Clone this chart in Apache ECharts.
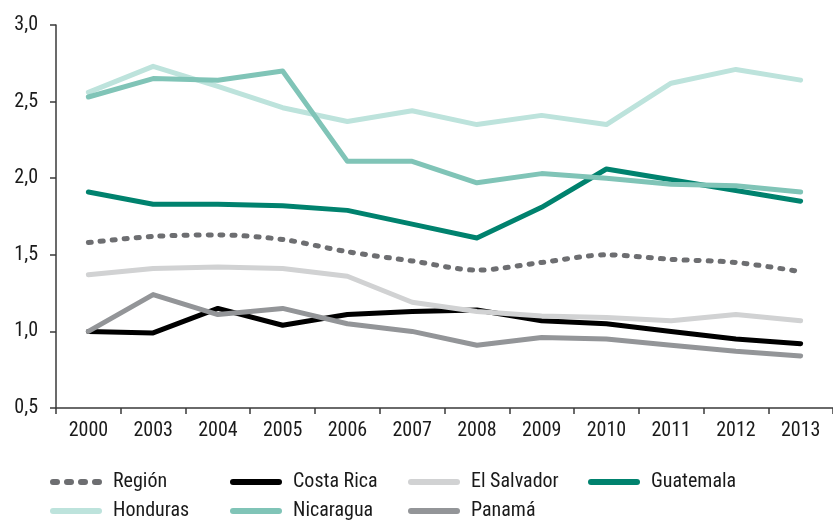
<!DOCTYPE html>
<html><head><meta charset="utf-8">
<script src="https://cdn.jsdelivr.net/npm/echarts@6/dist/echarts.min.js"></script>
<style>html,body{margin:0;padding:0;background:#fff}#c{width:833px;height:520px}</style>
</head><body><div id="c"></div>
<script>
const years = ['2000','2003','2004','2005','2006','2007','2008','2009','2010','2011','2012','2013'];
const region     = [1.58,1.62,1.63,1.60,1.52,1.46,1.40,1.45,1.50,1.47,1.45,1.39];
const costaRica  = [1.00,0.99,1.15,1.04,1.11,1.13,1.14,1.07,1.05,1.00,0.95,0.92];
const elSalvador = [1.37,1.41,1.42,1.41,1.36,1.19,1.13,1.10,1.09,1.07,1.11,1.07];
const guatemala  = [1.91,1.83,1.83,1.82,1.79,1.70,1.61,1.81,2.06,1.99,1.92,1.85];
const honduras   = [2.56,2.73,2.60,2.46,2.37,2.44,2.35,2.41,2.35,2.62,2.71,2.64];
const nicaragua  = [2.53,2.65,2.64,2.70,2.11,2.11,1.97,2.03,2.00,1.96,1.95,1.91];
const panama     = [1.00,1.24,1.11,1.15,1.05,1.00,0.91,0.96,0.95,0.91,0.87,0.84];

const FONT = "'Roboto Condensed','Liberation Sans Narrow',sans-serif";
const colors = {
  'Región':'#6d6e71','Costa Rica':'#000000','El Salvador':'#d1d2d3','Guatemala':'#00826e',
  'Honduras':'#bde3dc','Nicaragua':'#80c4b7','Panamá':'#939598'
};
function mk(name, data, extra) {
  return Object.assign({
    name, type:'line', data, symbol:'none', smooth:false,
    lineStyle:{width:5, color:colors[name], cap:'round', join:'round'},
    itemStyle:{color:colors[name]}
  }, extra||{});
}
const series = [
  mk('Región', region, {smooth:0.3, lineStyle:{width:5,color:colors['Región'],type:[3,9],cap:'round',join:'round'}}),
  mk('Costa Rica', costaRica),
  mk('El Salvador', elSalvador),
  mk('Guatemala', guatemala),
  mk('Honduras', honduras),
  mk('Nicaragua', nicaragua),
  mk('Panamá', panama)
];
function rr(x, w) { // rounded rect in a 52x6 box
  const r = 3;
  return `M${x+r},0 L${x+w-r},0 A${r},${r} 0 0 1 ${x+w-r},6 L${x+r},6 A${r},${r} 0 0 1 ${x+r},0 Z`;
}
const lineIcon = 'path://' + rr(0, 52);
const dotIcon = 'path://' + rr(0, 10) + ' ' + rr(14, 10) + ' ' + rr(28, 10) + ' ' + rr(42, 10);
function leg(left, top, name) {
  return {
    left, top, orient:'horizontal', itemGap: 0, itemWidth: 52, itemHeight: 6,
    data: [{name, icon: name==='Región' ? dotIcon : lineIcon, itemStyle:{color:colors[name]}}],
    textStyle:{fontFamily:FONT, fontSize:20, color:'#1a1a1a', padding:[0,0,0,6]},
    selectedMode:false, padding:0
  };
}
const chart = echarts.init(document.getElementById('c'), null, {renderer:'canvas'});
chart.setOption({
  animation:false,
  backgroundColor:'#fff',
  grid:{left:56, right:0, top:25, bottom:112},
  legend:[
    leg(50, 472, 'Región'), leg(230, 472, 'Costa Rica'), leg(408, 472, 'El Salvador'), leg(588, 472, 'Guatemala'),
    leg(50, 501, 'Honduras'), leg(230, 501, 'Nicaragua'), leg(408, 501, 'Panamá')
  ],
  xAxis:{
    type:'category', data:years, boundaryGap:true,
    axisLine:{lineStyle:{color:'#3a3a3a', width:1.5}},
    axisTick:{show:true, alignWithLabel:false, length:6, lineStyle:{color:'#3a3a3a', width:1.5}},
    axisLabel:{fontFamily:FONT, fontSize:20, color:'#1a1a1a', margin:13}
  },
  yAxis:{
    type:'value', min:0.5, max:3.0, interval:0.5,
    axisLine:{show:true, lineStyle:{color:'#3a3a3a', width:1.5}},
    axisTick:{show:true, length:6, lineStyle:{color:'#3a3a3a', width:1.5}},
    splitLine:{show:false},
    axisLabel:{fontFamily:FONT, fontSize:20, color:'#1a1a1a', margin:18,
      formatter:v=>v.toFixed(1).replace('.',',')}
  },
  series
});
</script></body></html>
